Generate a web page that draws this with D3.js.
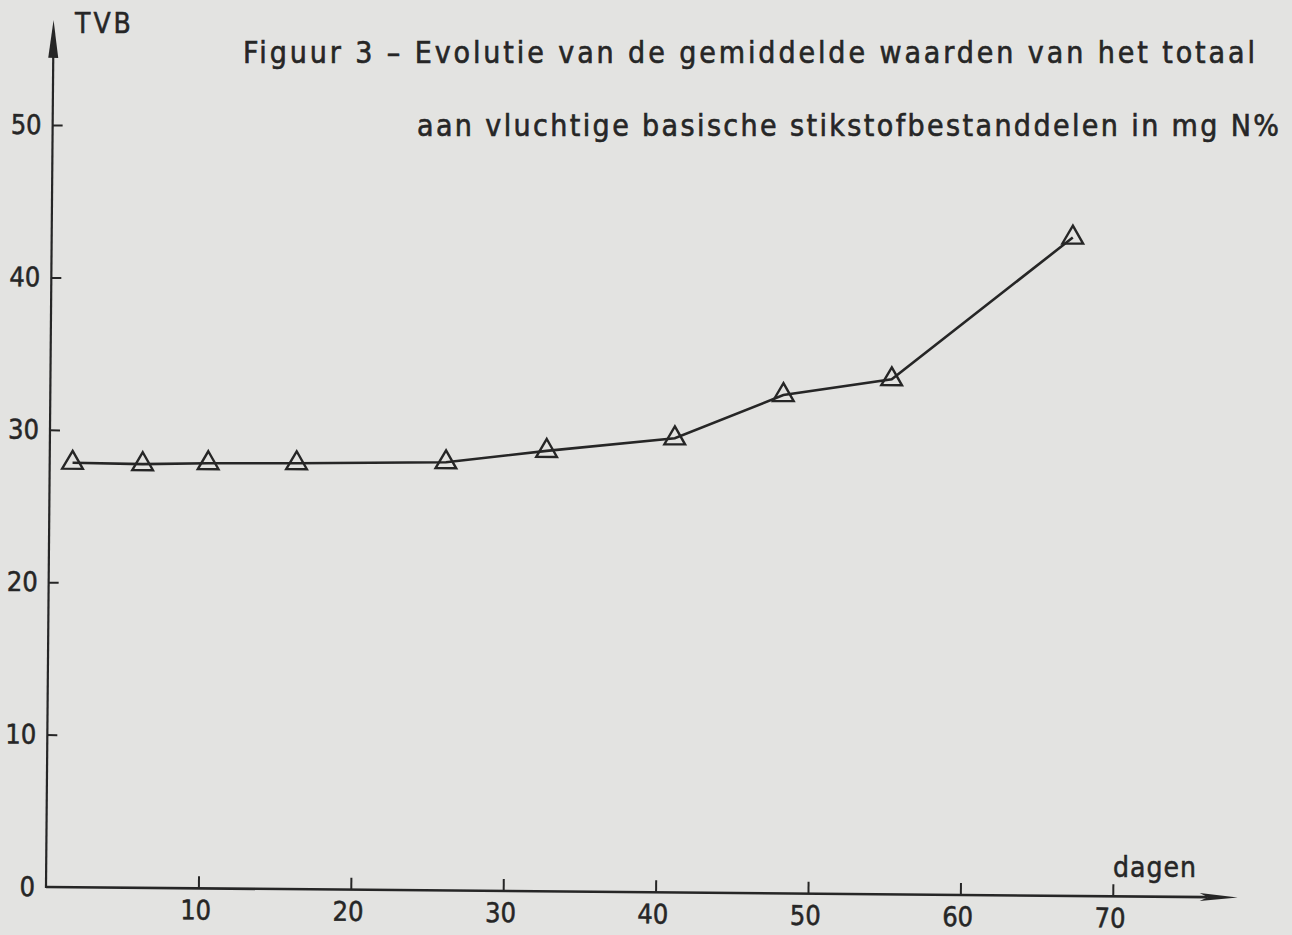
<!DOCTYPE html>
<html><head><meta charset="utf-8">
<script src="https://cdn.jsdelivr.net/npm/d3@7"></script>
<style>html,body{margin:0;padding:0;background:#e3e3e1;} svg{display:block}</style>
</head><body>
<svg id="c" width="1292" height="935"></svg>
<script>
// ---- data ----
const days = [1.5, 6.1, 10.4, 16.2, 26.0, 32.6, 41.0, 48.1, 55.2, 67.0];
const tvb  = [27.85, 27.8, 27.9, 27.95, 28.1, 28.9, 29.8, 32.7, 33.8, 43.2];
const xTicks = [10, 20, 30, 40, 50, 60, 70];
const yTicks = [0, 10, 20, 30, 40, 50];
const titleLines = [
  "Figuur 3 – Evolutie van de gemiddelde waarden van het totaal",
  "aan vluchtige basische stikstofbestanddelen in mg N%"
];
const yLabel = "TVB";
const xLabel = "dagen";

// ---- layout ----
const ink = "#262626";
const font = "'DejaVu Sans Condensed','Liberation Sans Narrow',sans-serif";
const svg = d3.select("#c");
svg.append("rect").attr("width",1292).attr("height",935).attr("fill","#e3e3e1");

const ox = 46, oy = 887, ppu = 15.24;
const x = d3.scaleLinear().domain([0, 10]).range([0, 10*ppu]);
const y = d3.scaleLinear().domain([0, 10]).range([0, -10*ppu]);
const xEnd = 78.2, yEnd = 56.9;

const g = svg.append("g").attr("transform", `translate(${ox},${oy}) rotate(0.5)`);

// axes
const xa = d3.axisBottom(x).tickValues(xTicks).tickSize(-12).tickPadding(12).tickFormat(d3.format("d"));
const ya = d3.axisLeft(y).tickValues(yTicks).tickSize(-10).tickPadding(11).tickFormat(d3.format("d"));
const gx = g.append("g").call(xa);
const gy = g.append("g").call(ya);
[gx, gy].forEach(a => {
  a.select(".domain").remove();
  a.selectAll(".tick line").attr("stroke", ink).attr("stroke-width", 2);
  a.selectAll(".tick text").attr("fill", ink).attr("stroke", ink).attr("stroke-width", 0.5)
    .style("font-family", font).style("font-size", "27px");
});
gy.selectAll(".tick").filter(d => d === 0).select("line").remove();
gx.selectAll(".tick text").attr("dx", -3);

g.append("line").attr("x1", x(0)).attr("y1", 0).attr("x2", x(xEnd) - 30).attr("y2", 0)
  .attr("stroke", ink).attr("stroke-width", 2.6);
g.append("line").attr("x1", 0).attr("y1", y(0) + 1).attr("x2", 0).attr("y2", y(yEnd) + 30)
  .attr("stroke", ink).attr("stroke-width", 2.2);
// arrowheads
g.append("path").attr("d", `M${x(xEnd)-38},-4 L${x(xEnd)},0 L${x(xEnd)-38},4 L${x(xEnd)-30},0 Z`).attr("fill", ink);
g.append("path").attr("d", `M-5,${y(yEnd)+38} L0,${y(yEnd)} L5,${y(yEnd)+38} Z`).attr("fill", ink);

// series
const pts = days.map((d, i) => [x(d), y(tvb[i])]);
g.append("path").attr("d", d3.line()(pts)).attr("fill", "none").attr("stroke", ink).attr("stroke-width", 2.6);
const tri = d3.symbol().type(d3.symbolTriangle).size(185);
g.selectAll(".m").data(pts).join("path").attr("class", "m")
  .attr("transform", p => `translate(${p[0]},${p[1]})`).attr("d", tri)
  .attr("fill", "none").attr("stroke", ink).attr("stroke-width", 2.4);

// labels
svg.append("text").attr("x", 75).attr("y", 33).text(yLabel)
  .attr("fill", ink).attr("stroke", ink).attr("stroke-width", 0.5)
  .style("font-family", font).style("font-size", "28px").attr("letter-spacing", 3);
svg.append("text").attr("x", 1113).attr("y", 877).text(xLabel)
  .attr("fill", ink).attr("stroke", ink).attr("stroke-width", 0.5)
  .style("font-family", font).style("font-size", "28px").attr("letter-spacing", 1);

// title
const tl = [[243, 63, 1012], [417, 136, 862]];
titleLines.forEach((t, i) => {
  svg.append("text").attr("x", tl[i][0]).attr("y", tl[i][1]).text(t)
    .attr("textLength", tl[i][2]).attr("lengthAdjust", "spacing")
    .attr("fill", ink).attr("stroke", ink).attr("stroke-width", 0.6)
    .style("font-family", font).style("font-size", "30px");
});
</script>
</body></html>
